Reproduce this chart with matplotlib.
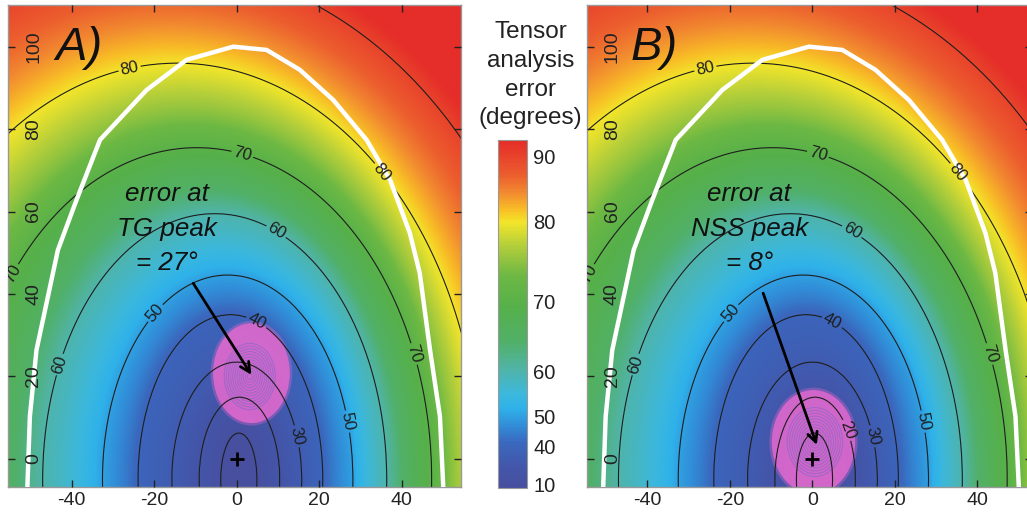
import numpy as np
import matplotlib
matplotlib.use("Agg")
import matplotlib.pyplot as plt
from matplotlib.colors import LinearSegmentedColormap, FuncNorm
from matplotlib.patches import Ellipse

plt.rcParams['font.family'] = ['Liberation Sans', 'DejaVu Sans']
plt.rcParams['axes.unicode_minus'] = False

# error contours: level and the ellipse each one traces
levels = [10, 20, 30, 40, 50, 60, 70, 80, 90, 100]
ell_cx = [0.55, 0.7, 0.05, -1.5, -2.15, -5.3, -9.6, -14.4, -19.0, -24.0]
ell_ax = [4.4, 9.8, 15.75, 22.4, 30.35, 41.7, 56.9, 73.6, 98.0, 125.0]
ell_by = [11.3, 20.0, 28.5, 40.0, 49.6, 64.5, 80.5, 101.0, 125.0, 150.0]
ell_y0 = -5.0

# colour bar: tick values and where they sit along the bar
cb_vals = [7, 40, 50, 60, 70, 80, 90, 92.6]
cb_pos = [0, 0.119, 0.206, 0.335, 0.536, 0.765, 0.952, 1.0]
cb_ticks = [10, 40, 50, 60, 70, 80, 90]

x_ticks = [-40, -20, 0, 20, 40]
y_ticks = [0, 20, 40, 60, 80, 100]

# thick white boundary
white_x = [-50.7, -50.1, -48.5, -43.3, -38.8, -33.1, -21.8, -12.1, -0.8, 7.3,
           15.3, 23.4, 31.5, 37.2, 42.0, 44.4, 46.9, 49.3, 50.1]
white_y = [-6.8, 10.3, 26.4, 50.7, 62.8, 77.4, 89.5, 96.8, 100.0, 99.2,
           94.4, 87.1, 77.4, 67.7, 54.8, 45.1, 26.4, 10.3, -6.8]

# peak blobs (fill centre, semi axes, ring centre), arrows and labels per panel
blob_a = dict(c=(3.6, 20.8), r=(9.3, 12.1), ring=(3.2, 20.0))
blob_b = dict(c=(0.3, 4.1), r=(10.1, 12.6), ring=(0.65, 4.1))
arrow_a = ((-10.5, 42.6), (3.6, 20.4))
arrow_b = ((-11.9, 40.2), (1.1, 3.4))
text_a = "error at\nTG peak\n= 27°"
text_b = "error at\nNSS peak\n= 8°"
text_xy_a = (-16.8, 55.8)
text_xy_b = (-15.3, 55.8)
clabel_a = [(-26, 95), (34.5, 69), (1.7, 75), (41, 25), (-54.5, 45), (9.8, 55.5),
            (-41.5, 22.5), (-21, 36.5), (26.6, 9), (5, 33.5), (14.6, 5.5)]
clabel_b = clabel_a + [(7.7, 6.5)]


def error_field():
    xg = np.linspace(-56, 56, 561)
    yg = np.linspace(-8, 112, 601)
    X, Y = np.meshgrid(xg, yg)
    S = np.array([np.hypot((X - cx) / a, (Y - ell_y0) / b)
                  for cx, a, b in zip(ell_cx, ell_ax, ell_by)])
    err = np.full(X.shape, float(levels[-1]))
    inner = S[0] <= 1
    err[inner] = levels[0] * S[0][inner]
    for i in range(len(levels) - 1):
        m = (S[i] > 1) & (S[i + 1] <= 1)
        t = (S[i][m] - 1) / (S[i][m] - S[i + 1][m])
        err[m] = levels[i] + (levels[i + 1] - levels[i]) * t
    return xg, yg, err


cmap = LinearSegmentedColormap.from_list("err", [
    (0.0, "#484f9f"), (0.06, "#4356aa"), (0.13, "#3a68be"), (0.18, "#318ed8"),
    (0.23, "#2fb2ea"), (0.27, "#3cb8dc"), (0.34, "#50b4a8"), (0.42, "#51b068"),
    (0.52, "#56b04a"), (0.61, "#6cb844"), (0.70, "#b6cf3a"), (0.765, "#f2e52a"),
    (0.80, "#f8bf26"), (0.85, "#f28a30"), (0.90, "#ec5e2e"), (1.0, "#e52d29")])


def fwd(v):
    return np.interp(v, cb_vals, cb_pos)


def inv(p):
    return np.interp(p, cb_pos, cb_vals)


norm = FuncNorm((fwd, inv), vmin=cb_vals[0], vmax=cb_vals[-1])
xg, yg, err = error_field()


def panel(ax, xlim, letter, blob, arrow, text, text_xy, clab):
    im = ax.imshow(err, extent=(xg[0], xg[-1], yg[0], yg[-1]), origin='lower',
                   cmap=cmap, norm=norm, interpolation='bilinear', aspect='auto', zorder=0)
    ax.set_xlim(*xlim)
    ax.set_ylim(-6.8, 110.1)
    # peak blob with its rings
    ax.add_patch(Ellipse(blob['c'], 2 * blob['r'][0] + 1.2, 2 * blob['r'][1] + 1.2,
                         facecolor='#e466cf', edgecolor='none', alpha=0.35, zorder=1))
    ax.add_patch(Ellipse(blob['c'], 2 * blob['r'][0], 2 * blob['r'][1],
                         facecolor='#e86ad0', edgecolor='none', alpha=0.8, zorder=1))
    for k in np.arange(0.06, 0.72, 0.055):
        ax.add_patch(Ellipse(blob['ring'], 2 * blob['r'][0] * k, 2 * blob['r'][1] * k,
                             facecolor='none', edgecolor='#8068c8', lw=0.7,
                             alpha=0.65, zorder=1.5))
    cs = ax.contour(xg, yg, err, levels=levels[:-1], colors='#1e1e1e',
                    linewidths=0.8, zorder=2)
    ax.clabel(cs, manual=clab, fmt='%d', fontsize=12, inline=True, inline_spacing=2)
    ax.plot(white_x, white_y, color='white', lw=3.2, zorder=3, solid_joinstyle='round')
    ax.plot(0, 0, marker='+', ms=10, mew=2, color='black', zorder=4)
    ax.annotate('', xy=arrow[1], xytext=arrow[0], zorder=5,
                arrowprops=dict(arrowstyle='->,head_length=0.7,head_width=0.35',
                                lw=2, color='black', shrinkA=0, shrinkB=0))
    ax.text(text_xy[0], text_xy[1], text, ha='center', va='center', fontsize=18.7,
            style='italic', linespacing=1.55, color='#111111', zorder=5)
    ax.text(-44, 96.8, letter, ha='left', va='baseline', fontsize=34,
            style='italic', color='#111111', zorder=5)
    ax.set_xticks(x_ticks)
    ax.set_yticks(y_ticks)
    ax.tick_params(direction='in', top=True, right=True, length=5, width=1,
                   labelsize=14, colors='#222222')
    ax.tick_params(axis='y', labelrotation=90, pad=-18.5)
    for t in ax.get_yticklabels():
        t.set_ha('center')
        t.set_va('center')
    ax.xaxis.set_zorder(6)
    ax.yaxis.set_zorder(6)
    for s in ax.spines.values():
        s.set_color('#999999')
        s.set_linewidth(1)
    return im


fig = plt.figure(figsize=(10.27, 5.15), dpi=100)
ax_a = fig.add_axes([8 / 1027, 28 / 515, 453 / 1027, 482 / 515])
ax_b = fig.add_axes([586.7 / 1027, 28 / 515, 445.3 / 1027, 482 / 515])
cax = fig.add_axes([497.5 / 1027, 26.7 / 515, 29 / 1027, 348.3 / 515])

im = panel(ax_a, (-55.4, 54.4), 'A)', blob_a, arrow_a, text_a, text_xy_a, clabel_a)
panel(ax_b, (-54.7, 53.3), 'B)', blob_b, arrow_b, text_b, text_xy_b, clabel_b)

cb = fig.colorbar(im, cax=cax, ticks=cb_ticks)
cb.ax.tick_params(length=0, labelsize=14.5, pad=5, colors='#222222')
cb.outline.set_edgecolor('#999999')
fig.text(530.5 / 1027, 1 - 21 / 515, "Tensor\nanalysis\nerror\n(degrees)",
         ha='center', va='top', fontsize=17.5, linespacing=1.4, color='#222222')

fig.savefig("out.png", dpi=100)
